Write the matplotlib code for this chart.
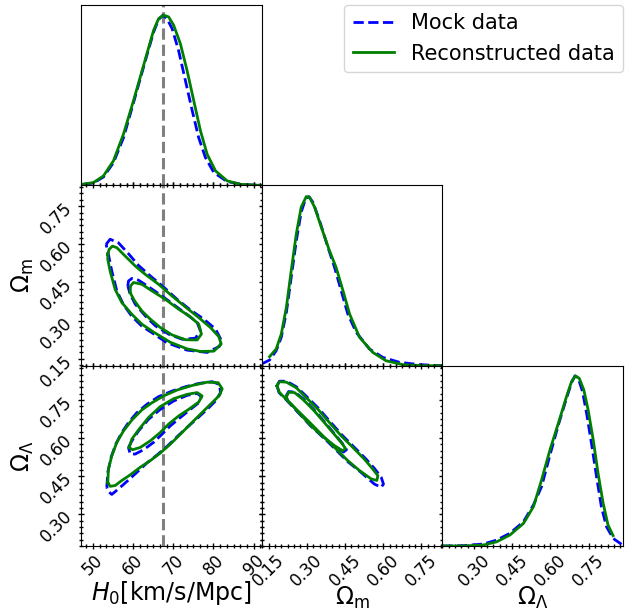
import matplotlib.pyplot as plt
from matplotlib.ticker import AutoMinorLocator
from matplotlib.lines import Line2D

plt.rcParams['font.family'] = ['DejaVu Sans']

# 真值 H0
h0_true = 67.4

# 参数范围与刻度
h0_lim = (47.0, 92.0)
om_lim = (0.123, 0.832)
ol_lim = (0.175, 0.885)
h0_ticks = [50, 60, 70, 80, 90]
om_ticks = [0.15, 0.30, 0.45, 0.60, 0.75]
ol_ticks = [0.30, 0.45, 0.60, 0.75]

# ---- 一维边缘分布 (峰值归一) ----
h0_rec = [47.17, 50.08, 52.58, 55.08, 57.58, 60.08, 61.75, 63.42, 65.08, 66.33, 67.58,
          68.83, 70.08, 71.75, 73.42, 75.08, 76.75, 78.42, 80.5, 83.42, 86.75, 91.75]
h0_rec_p = [0.006, 0.016, 0.055, 0.144, 0.301, 0.498, 0.636, 0.774, 0.911, 0.980, 1.0,
            0.990, 0.941, 0.833, 0.675, 0.498, 0.321, 0.183, 0.085, 0.026, 0.006, 0.0]
h0_mock = [47.2, 50.1, 52.6, 55.1, 57.6, 60.1, 61.75, 63.4, 65.1, 66.3, 67.4,
           68.4, 69.7, 71.3, 73.0, 74.7, 76.3, 78.0, 80.1, 83.4, 87.6, 91.8]
h0_mock_p = [0.004, 0.014, 0.049, 0.134, 0.281, 0.488, 0.626, 0.764, 0.902, 0.974, 1.0,
             0.980, 0.921, 0.793, 0.616, 0.439, 0.281, 0.163, 0.075, 0.022, 0.004, 0.0]

om_rec = [0.154, 0.180, 0.200, 0.220, 0.239, 0.259, 0.278, 0.298, 0.311, 0.331, 0.357,
          0.389, 0.415, 0.442, 0.468, 0.507, 0.559, 0.611, 0.677, 0.755, 0.827]
om_rec_p = [0.053, 0.098, 0.186, 0.343, 0.559, 0.775, 0.931, 0.994, 0.990, 0.931, 0.814,
            0.676, 0.578, 0.441, 0.304, 0.167, 0.078, 0.029, 0.006, 0.0, 0.0]
om_mock = [0.123, 0.154, 0.180, 0.200, 0.220, 0.239, 0.259, 0.278, 0.295, 0.308, 0.324,
           0.350, 0.383, 0.409, 0.435, 0.461, 0.494, 0.546, 0.598, 0.663, 0.742, 0.827]
om_mock_p = [0.010, 0.033, 0.088, 0.167, 0.314, 0.520, 0.735, 0.902, 0.980, 0.994, 0.961,
             0.853, 0.696, 0.578, 0.441, 0.304, 0.196, 0.098, 0.049, 0.020, 0.006, 0.0]

ol_rec = [0.175, 0.259, 0.337, 0.389, 0.441, 0.494, 0.533, 0.565, 0.598, 0.631, 0.663,
          0.683, 0.698, 0.713, 0.731, 0.748, 0.768, 0.787, 0.807, 0.826, 0.846]
ol_rec_p = [0.0, 0.0, 0.006, 0.025, 0.065, 0.133, 0.231, 0.388, 0.565, 0.722, 0.878,
            0.967, 1.0, 0.986, 0.918, 0.800, 0.624, 0.427, 0.251, 0.124, 0.061]
ol_mock = [0.175, 0.259, 0.337, 0.389, 0.441, 0.494, 0.533, 0.565, 0.598, 0.631, 0.663,
           0.683, 0.696, 0.709, 0.726, 0.742, 0.761, 0.781, 0.800, 0.820, 0.846, 0.879]
ol_mock_p = [0.0, 0.002, 0.012, 0.035, 0.075, 0.143, 0.241, 0.349, 0.535, 0.712, 0.869,
             0.961, 1.0, 0.986, 0.908, 0.780, 0.604, 0.408, 0.231, 0.114, 0.045, 0.010]

# ---- 二维等高线 (68% / 95%) ----
# H0 - Omega_m
h0om_mock95_x = [53.25, 54.25, 56.33, 58.83, 61.33, 64.25, 67.58, 70.92, 74.25, 77.58, 80.5, 82.0,
                 81.5, 78.42, 73.42, 68.42, 64.25, 62.17, 59.67, 57.58, 55.92, 54.67, 53.83]
h0om_mock95_y = [0.600, 0.620, 0.606, 0.563, 0.517, 0.476, 0.432, 0.384, 0.342, 0.306, 0.267, 0.221,
                 0.199, 0.175, 0.184, 0.213, 0.257, 0.278, 0.317, 0.363, 0.417, 0.495, 0.560]
h0om_rec95_x = [53.67, 54.0, 54.83, 55.92, 58.0, 60.5, 63.0, 66.33, 69.67, 73.0, 76.33, 79.25, 81.33,
                81.92, 80.08, 76.75, 73.42, 69.25, 65.08, 62.17, 59.67, 57.17, 55.5, 54.25, 53.67]
h0om_rec95_y = [0.560, 0.580, 0.593, 0.587, 0.554, 0.515, 0.482, 0.443, 0.397, 0.354, 0.312, 0.273, 0.237,
                0.208, 0.180, 0.179, 0.189, 0.215, 0.255, 0.286, 0.325, 0.371, 0.423, 0.495, 0.541]
h0om_mock68_x = [58.67, 58.83, 59.67, 61.33, 63.83, 67.17, 70.5, 73.83, 75.92, 76.75, 75.5, 72.17,
                 68.83, 65.5, 63.0, 60.5, 59.25]
h0om_mock68_y = [0.436, 0.456, 0.466, 0.459, 0.433, 0.397, 0.358, 0.319, 0.293, 0.260, 0.231, 0.227,
                 0.247, 0.280, 0.319, 0.365, 0.404]
h0om_rec68_x = [59.25, 59.33, 60.08, 62.17, 64.67, 68.0, 71.33, 74.25, 76.33, 77.0, 75.92, 73.0,
                69.67, 66.75, 64.25, 62.17, 60.33]
h0om_rec68_y = [0.410, 0.436, 0.450, 0.443, 0.417, 0.384, 0.345, 0.315, 0.286, 0.247, 0.224, 0.225,
                0.244, 0.273, 0.306, 0.338, 0.378]

# H0 - Omega_Lambda
h0ol_mock95_x = [53.42, 53.67, 54.5, 55.67, 57.17, 58.83, 60.92, 63.42, 66.33, 69.67, 73.0, 76.33, 79.67,
                 81.5, 81.75, 80.5, 78.42, 75.92, 73.42, 70.92, 68.42, 65.92, 63.42, 60.92, 58.42,
                 56.33, 54.67, 53.8]
h0ol_mock95_y = [0.406, 0.465, 0.524, 0.576, 0.622, 0.661, 0.700, 0.733, 0.763, 0.785, 0.802, 0.815, 0.822,
                 0.811, 0.779, 0.746, 0.713, 0.677, 0.642, 0.605, 0.567, 0.533, 0.502, 0.465, 0.429,
                 0.400, 0.378, 0.390]
h0ol_rec95_x = [53.67, 53.83, 54.67, 55.92, 57.58, 59.67, 62.17, 64.67, 67.58, 70.92, 74.67, 78.42, 81.17,
                82.17, 81.5, 79.25, 76.75, 74.25, 71.75, 69.25, 66.75, 64.25, 61.75, 59.25, 57.17,
                55.5, 54.25]
h0ol_rec95_y = [0.426, 0.478, 0.530, 0.583, 0.628, 0.671, 0.711, 0.739, 0.766, 0.789, 0.807, 0.820, 0.818,
                0.794, 0.768, 0.733, 0.694, 0.655, 0.615, 0.576, 0.541, 0.511, 0.485, 0.455, 0.433,
                0.413, 0.410]
h0ol_mock68_x = [58.83, 59.67, 61.33, 63.83, 66.75, 70.08, 73.42, 75.92, 77.0, 76.33, 74.25, 71.75,
                 69.25, 67.17, 65.08, 62.58, 60.5, 59.25]
h0ol_mock68_y = [0.563, 0.589, 0.628, 0.674, 0.713, 0.746, 0.768, 0.776, 0.763, 0.739, 0.713, 0.681,
                 0.648, 0.615, 0.583, 0.554, 0.537, 0.537]
h0ol_rec68_x = [59.0, 59.67, 61.33, 63.83, 66.75, 70.08, 73.42, 75.92, 77.17, 76.33, 73.83, 71.33,
                68.83, 66.75, 64.25, 61.75, 59.83]
h0ol_rec68_y = [0.563, 0.596, 0.632, 0.681, 0.724, 0.755, 0.772, 0.779, 0.766, 0.742, 0.713, 0.687,
                0.655, 0.622, 0.589, 0.563, 0.554]

# Omega_m - Omega_Lambda
omol_mock95_x = [0.183, 0.193, 0.220, 0.259, 0.300, 0.347, 0.392, 0.439, 0.483, 0.530, 0.565, 0.592,
                 0.601, 0.592, 0.565, 0.513, 0.461, 0.409, 0.357, 0.304, 0.259, 0.220, 0.191]
omol_mock95_y = [0.807, 0.824, 0.824, 0.802, 0.763, 0.716, 0.664, 0.611, 0.567, 0.520, 0.481, 0.446,
                 0.419, 0.406, 0.419, 0.465, 0.507, 0.559, 0.611, 0.664, 0.709, 0.750, 0.779]
omol_rec95_x = [0.183, 0.193, 0.220, 0.259, 0.298, 0.344, 0.389, 0.435, 0.481, 0.526, 0.559, 0.579,
                0.575, 0.553, 0.507, 0.461, 0.409, 0.357, 0.305, 0.259, 0.220, 0.193]
omol_rec95_y = [0.805, 0.822, 0.820, 0.798, 0.759, 0.713, 0.661, 0.609, 0.563, 0.517, 0.478, 0.452,
                0.433, 0.439, 0.472, 0.511, 0.563, 0.615, 0.668, 0.713, 0.752, 0.779]
omol_mock68_x = [0.218, 0.229, 0.253, 0.287, 0.326, 0.366, 0.405, 0.438, 0.456, 0.444, 0.410, 0.363,
                 0.316, 0.277, 0.244, 0.224]
omol_mock68_y = [0.764, 0.783, 0.781, 0.754, 0.714, 0.668, 0.621, 0.581, 0.554, 0.545, 0.566, 0.604,
                 0.647, 0.689, 0.726, 0.747]
omol_rec68_x = [0.220, 0.230, 0.252, 0.285, 0.324, 0.363, 0.402, 0.435, 0.452, 0.441, 0.409, 0.363,
                0.317, 0.278, 0.246, 0.226]
omol_rec68_y = [0.763, 0.781, 0.779, 0.752, 0.713, 0.668, 0.622, 0.583, 0.559, 0.550, 0.570, 0.606,
                0.648, 0.690, 0.726, 0.746]

mock_style = dict(color='blue', ls='--', lw=2)
rec_style = dict(color='green', ls='-', lw=2)


def closed(xs, ys):
    return list(xs) + [xs[0]], list(ys) + [ys[0]]


def style_ticks(ax, all_sides):
    ax.xaxis.set_minor_locator(AutoMinorLocator(6))
    ax.yaxis.set_minor_locator(AutoMinorLocator(6))
    ax.tick_params(which='both', direction='inout', width=1, labelsize=12, pad=1.5,
                   top=all_sides, right=all_sides, left=all_sides)
    ax.tick_params(which='major', length=4.5)
    ax.tick_params(which='minor', length=2.8)
    for lbl in ax.get_xticklabels() + ax.get_yticklabels():
        lbl.set_rotation(45)


fig, axes = plt.subplots(3, 3, figsize=(6.35, 6.13), dpi=100)
fig.subplots_adjust(left=81 / 635, right=623 / 635, top=1 - 5 / 613, bottom=1 - 546 / 613,
                    wspace=0, hspace=0)

lims = [h0_lim, om_lim, ol_lim]
ticks = [h0_ticks, om_ticks, ol_ticks]

# 对角线：一维分布
diag = [(h0_mock, h0_mock_p, h0_rec, h0_rec_p),
        (om_mock, om_mock_p, om_rec, om_rec_p),
        (ol_mock, ol_mock_p, ol_rec, ol_rec_p)]
for i, (mx, mp, rx, rp) in enumerate(diag):
    ax = axes[i, i]
    ax.plot(mx, mp, **mock_style)
    ax.plot(rx, rp, **rec_style)
    ax.set_xlim(*lims[i])
    ax.set_ylim(0, 1.06)
    ax.set_xticks(ticks[i])
    ax.set_yticks([])
    style_ticks(ax, False)
    ax.yaxis.set_minor_locator(plt.NullLocator())

# 二维等高线
pairs = {
    (1, 0): [(h0om_mock95_x, h0om_mock95_y, h0om_mock68_x, h0om_mock68_y),
             (h0om_rec95_x, h0om_rec95_y, h0om_rec68_x, h0om_rec68_y)],
    (2, 0): [(h0ol_mock95_x, h0ol_mock95_y, h0ol_mock68_x, h0ol_mock68_y),
             (h0ol_rec95_x, h0ol_rec95_y, h0ol_rec68_x, h0ol_rec68_y)],
    (2, 1): [(omol_mock95_x, omol_mock95_y, omol_mock68_x, omol_mock68_y),
             (omol_rec95_x, omol_rec95_y, omol_rec68_x, omol_rec68_y)],
}
for (r, c), (mock, rec) in pairs.items():
    ax = axes[r, c]
    for data, st in ((mock, mock_style), (rec, rec_style)):
        ax.plot(*closed(data[0], data[1]), **st)
        ax.plot(*closed(data[2], data[3]), **st)
    ax.set_xlim(*lims[c])
    ax.set_ylim(*lims[r])
    ax.set_xticks(ticks[c])
    ax.set_yticks(ticks[r])
    style_ticks(ax, True)

# 空白面板
for (r, c) in [(0, 1), (0, 2), (1, 2)]:
    axes[r, c].axis('off')

# 只保留外侧刻度标签
for r in range(3):
    for c in range(r + 1):
        ax = axes[r, c]
        if r != 2:
            ax.tick_params(labelbottom=False)
        if c != 0 or r == 0:
            ax.tick_params(labelleft=False)

# H0 真值竖线
for r in range(3):
    axes[r, 0].axvline(h0_true, color='gray', ls='--', lw=2.2, zorder=0)

axes[2, 0].set_xlabel(r'$H_0$[km/s/Mpc]', fontsize=17, labelpad=0)
axes[2, 1].set_xlabel(r'$\Omega_{\rm m}$', fontsize=17, labelpad=-4)
axes[2, 2].set_xlabel(r'$\Omega_\Lambda$', fontsize=17, labelpad=-4)
axes[1, 0].set_ylabel(r'$\Omega_{\rm m}$', fontsize=17, labelpad=1)
axes[2, 0].set_ylabel(r'$\Omega_\Lambda$', fontsize=17, labelpad=1)

handles = [Line2D([], [], **mock_style), Line2D([], [], **rec_style)]
fig.legend(handles, ['Mock data', 'Reconstructed data'], loc='upper right',
           bbox_to_anchor=(623 / 635, 1 - 5 / 613), borderaxespad=0, fontsize=15)

fig.savefig('out.png', dpi=100)
